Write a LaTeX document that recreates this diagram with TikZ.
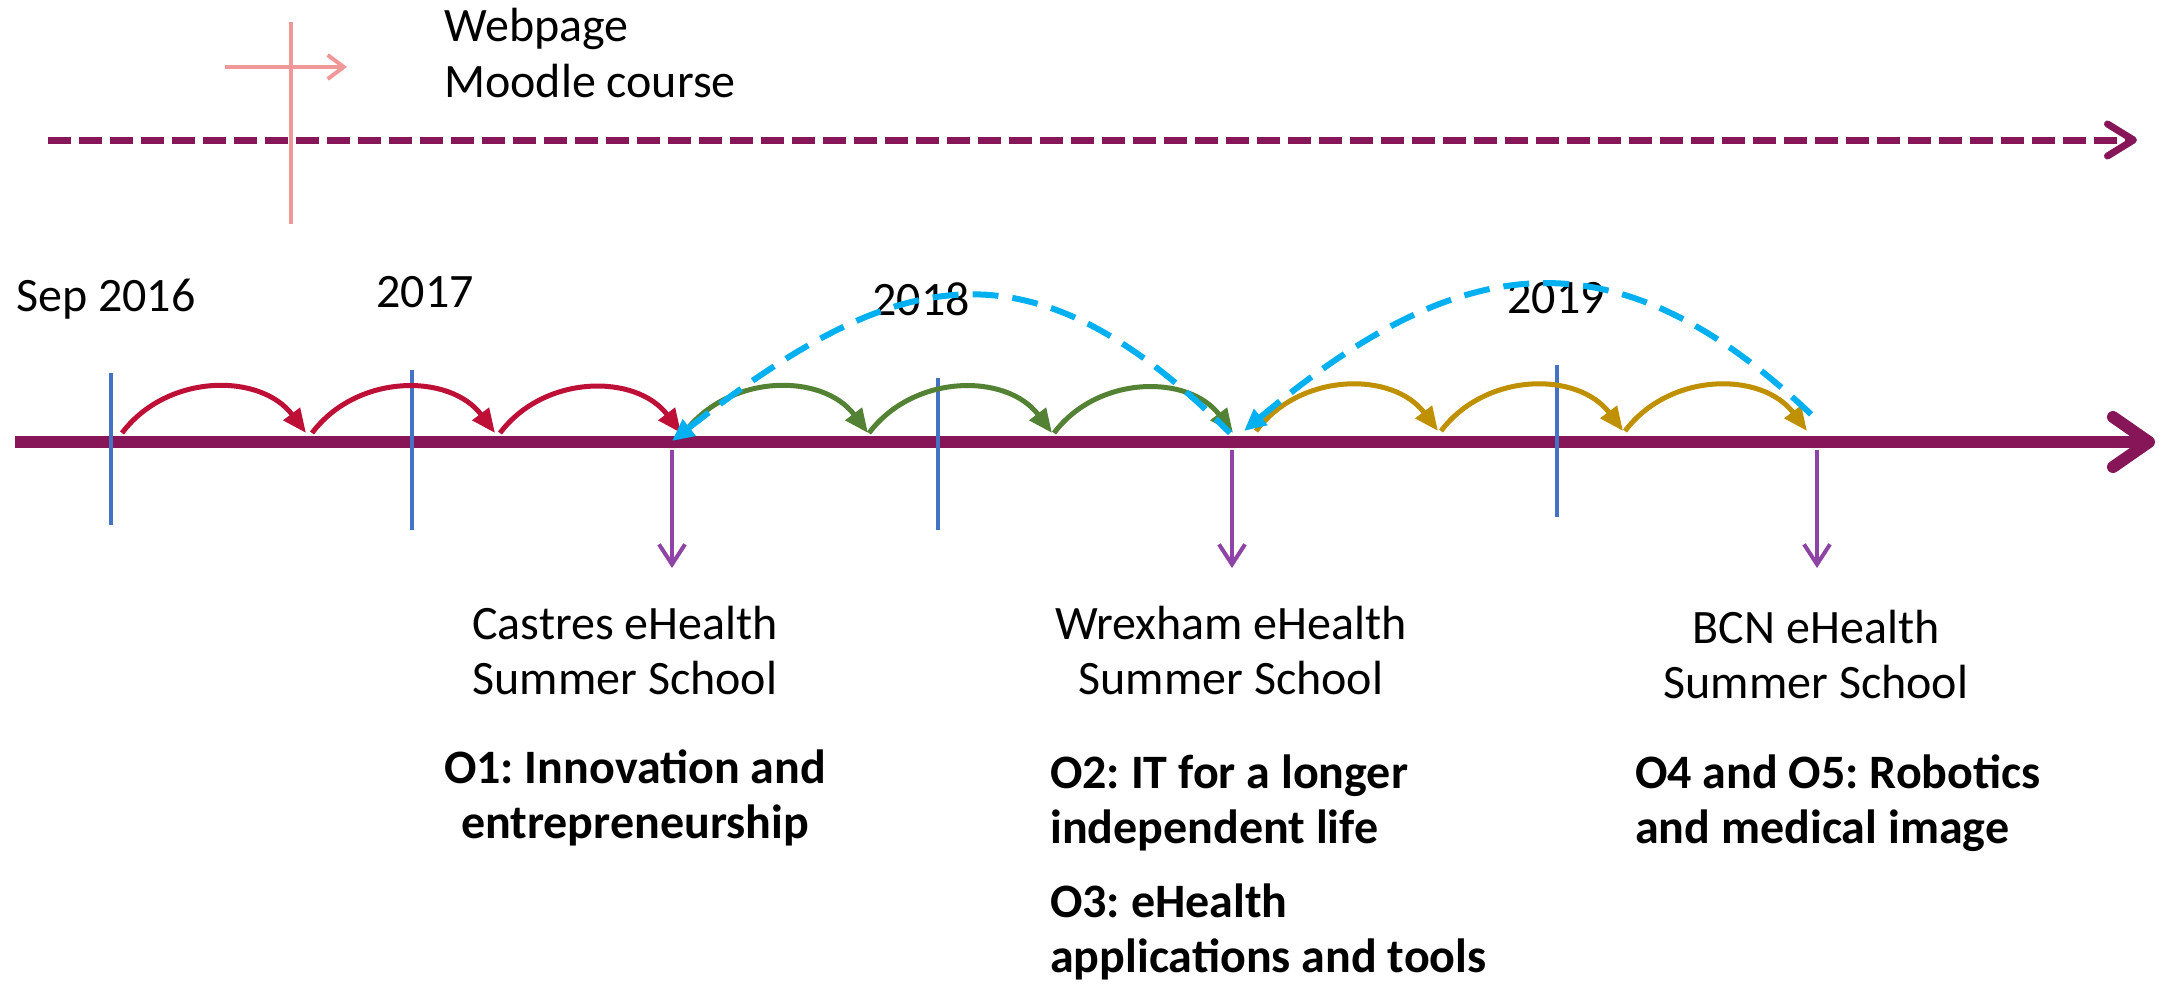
\documentclass[tikz,border=0pt]{standalone}
\usepackage{fontspec}
\setmainfont{Carlito}
\usepackage{tikz}
\usetikzlibrary{arrows.meta}

\definecolor{axispurple}{RGB}{134,22,87}
\definecolor{tickblue}{RGB}{68,114,196}
\definecolor{downpurple}{RGB}{142,68,164}
\definecolor{hopred}{RGB}{190,16,55}
\definecolor{hopgreen}{RGB}{84,130,53}
\definecolor{hopgold}{RGB}{191,144,0}
\definecolor{loopcyan}{RGB}{0,176,240}
\definecolor{markpink}{RGB}{240,152,152}

\tikzset{
    lbl/.style={font=\fontsize{48}{55}\selectfont\frenchspacing, inner sep=0pt},
    obj/.style={font=\fontsize{48}{55}\selectfont\bfseries\frenchspacing, inner sep=0pt},
    axisline/.style={draw=axispurple, line width=12pt, -{Straight Barb[length=36pt,width=50pt,round]}},
    onlineline/.style={draw=axispurple, line width=7pt, dash pattern=on 23pt off 8pt, -{Straight Barb[length=26pt,width=32pt,round]}},
    yeartick/.style={draw=tickblue, line width=4pt},
    downarrow/.style={draw=downpurple, line width=4pt, -{Straight Barb[length=20pt,width=26pt]}},
    hop/.style={line width=5pt, -{Triangle[length=24pt,width=20pt]}, out=53, in=127, looseness=1.05},
    bighop/.style={draw=loopcyan, line width=6pt, dash pattern=on 26pt off 14pt, {Triangle[length=22pt,width=20pt]}-},
    pinkmark/.style={draw=markpink, line width=4pt}
}

\begin{document}
\begin{tikzpicture}[x=1pt, y=-1pt, line join=round]
    \useasboundingbox (0,0) rectangle (2164,985);

    % online part
    \coordinate (p0) at (291,22);
    \coordinate (p1) at (291,224);
    \coordinate (q0) at (225,67);
    \coordinate (q1) at (347,67);
    \coordinate (w0) at (48,140);
    \coordinate (w1) at (2137,140);
    \node[lbl, anchor=base west] (webpage) at (444,41) {Webpage};
    \node[lbl, anchor=base west] (moodle) at (444,97) {Moodle course};
    \draw[onlineline] (w0) -- (w1);
    \draw[pinkmark] (p0) -- (p1);
    \draw[pinkmark, -{Straight Barb[length=16pt,width=24pt]}] (q0) -- (q1);

    % time axis
    \coordinate (a0) at (15,442);
    \coordinate (a1) at (2155,442);
    \draw[axisline] (a0) -- (a1);
    \foreach \x/\u/\v [count=\i] in {111/373/525, 412/370/530, 938/378/530, 1557/365/517}{
        \coordinate (t\i) at (\x,\u);
        \coordinate (b\i) at (\x,\v);
        \draw[yeartick] (t\i) -- (b\i);
    }

    \node[lbl, anchor=base west] (sep16) at (16,311) {Sep 2016};
    \node[lbl, anchor=base] (y17) at (425,307) {2017};
    \node[lbl, anchor=base] (y18) at (921,315) {2018};
    \node[lbl, anchor=base] (y19) at (1556,313) {2019};

    % short hops
    \foreach \a/\b/\y/\c [count=\i] in {122/306/433/hopred, 312/495/433/hopred, 500/681/433/hopred,
        684/868/433/hopgreen, 869/1052/433/hopgreen, 1054/1233/433/hopgreen,
        1256/1438/431/hopgold, 1441/1623/431/hopgold, 1625/1807/431/hopgold}{
        \coordinate (s\i) at (\a,\y);
        \coordinate (e\i) at (\b,\y);
        \draw[hop, draw=\c] (s\i) to (e\i);
    }

    % yearly hops
    \coordinate (c0) at (672,441);
    \coordinate (c1) at (1230,433);
    \coordinate (c2) at (1244,431);
    \coordinate (c3) at (1817,420);
    \draw[bighop] (c0) to[out=38, in=135, looseness=1.3] (c1);
    \draw[bighop] (c2) to[out=40, in=136, looseness=1.25] (c3);

    % summer schools
    \foreach \x [count=\i] in {672,1232,1817}{
        \coordinate (d\i) at (\x,450);
        \coordinate (f\i) at (\x,568);
        \draw[downarrow] (d\i) -- (f\i);
    }
    \node[lbl, align=center, anchor=base] (castres) at (625,694) {Castres eHealth\\Summer School};
    \node[lbl, align=center, anchor=base] (wrexham) at (1231,694) {Wrexham eHealth\\Summer School};
    \node[lbl, align=center, anchor=base] (bcn) at (1816,698) {BCN eHealth\\Summer School};

    \node[obj, align=center, anchor=base] (o1) at (635,838) {O1: Innovation and\\entrepreneurship};
    \node[obj, align=left, anchor=base west] (o2) at (1050,843) {O2: IT for a longer\\independent life};
    \node[obj, align=left, anchor=base west] (o3) at (1050,972) {O3: eHealth\\applications and tools};
    \node[obj, align=left, anchor=base west] (o4) at (1635,843) {O4 and O5: Robotics\\and medical image};
\end{tikzpicture}
\end{document}
